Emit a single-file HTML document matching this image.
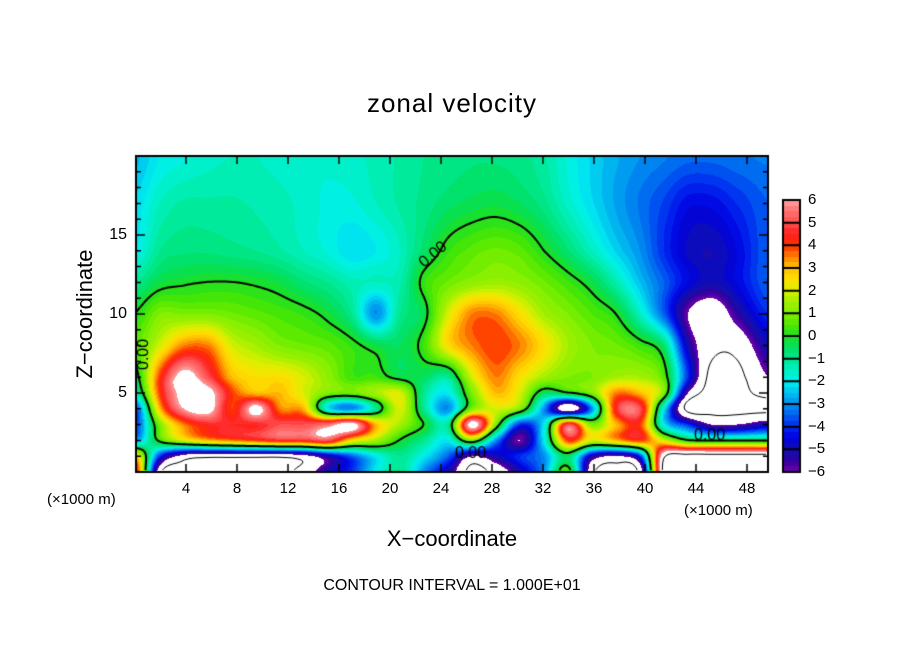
<!DOCTYPE html>
<html><head><meta charset="utf-8"><style>
body{margin:0;background:#fff;width:904px;height:654px;overflow:hidden;position:relative;font-family:"Liberation Sans",sans-serif}
.t{position:absolute;color:#000;white-space:nowrap}
</style></head><body>
<div class="t" style="left:0;width:904px;text-align:center;top:88px;font-size:26px;letter-spacing:1px">zonal velocity</div>
<div class="t" style="left:85px;top:314px;font-size:22px;transform:translate(-50%,-50%) rotate(-90deg)">Z−coordinate</div>
<div class="t" style="left:0;width:904px;text-align:center;top:526px;font-size:22px">X−coordinate</div>
<div class="t" style="left:47px;top:491px;font-size:15px">(×1000 m)</div>
<div class="t" style="left:684px;top:502px;font-size:15px">(×1000 m)</div>
<div class="t" style="left:0;width:904px;text-align:center;top:577px;font-size:16px">CONTOUR INTERVAL = 1.000E+01</div>
<canvas id="c" width="904" height="654" style="position:absolute;left:0;top:0"></canvas>
<script>
const xs=[0,1.96,3.84,5.73,7.61,9.49,11.37,13.25,15.14,17.02,18.9,20.78,22.67,24.55,26.43,28.31,30.2,32.08,33.96,35.84,37.73,39.61,41.49,43.37,45.25,47.14,49.65];
const zs=[0,1,2,3,4,5,6,8,10,12,14,17,20];
const row0=[5,-7,-8,-8,-8,-8,-8,-7,-5,-4,-2,-1,-3,-5,-8,-7,-5,-3,0.5,-7,-8,-7,8,9,9,9,9];
const row1=[3,-4,-6.5,-7,-7,-7,-7,-6.5,-5,-3.5,-2,-1,-2,-3.5,-6,-5,-4,-3,-0.5,-5,-6,-4,7,8,8,8,8];
const row2=[-3,0.3,2,3,3.5,4,4.5,4.5,5,2.5,1.5,0,-1,-2,1,-3,-6,-2,4,2,3,4,2,0,-0.3,-0.3,-0.3];
const row3=[-4,1,3.5,4.5,4.5,4.5,5,5,5.5,6.5,3,1.5,0,-1,6.5,1,-4,-2,5,1,3,4,-2,-4,-6,-6,-5];
const row4=[-4,3,6,6.5,4,6.5,3.5,3,-2,-3,-1,2,-1,-3,1,2,1,-3,-7,-3,4.5,5,-2,-8,-8,-8,-8];
const row5=[-1.5,4,6.5,6.5,4,3,3,2,1,0.8,1.5,2,-1,-2,1,3,2,-0.5,0,1,3.5,3,1,-6,-8,-8,-7];
const row6=[-0.5,4,6.5,5,3,2.5,2.5,2,1.2,0.3,0.3,-0.3,-0.5,-1,2,3.5,2.5,1.5,1,1,1.5,1.5,0.5,-4,-8,-8,-6];
const row8=[0.5,2,3.5,3.5,2,1.5,1,0.8,0.6,0.2,-0.3,-0.5,0.3,2.5,3.5,4,3.5,2.5,1.5,1,0.8,0.3,-0.7,-5,-7,-7,-5];
const row10=[0,1,1,1,0.8,0.6,0.4,0.2,-0.2,-1,-3,-1,-0.3,2,3.5,3.5,2.5,1.5,1,0.5,0,-1.5,-3.5,-6,-7,-5.5,-4];
const row12=[-1,-0.3,-0.1,0,0,-0.1,-0.3,-0.7,-1,-1.4,-1.5,-1.3,0.2,0.8,1.2,1.4,1.2,0.8,0.3,-0.3,-1.3,-2.5,-3.5,-4.5,-5,-4.5,-3.5];
const row14=[-2,-1,-0.8,-0.8,-0.9,-1,-1.2,-1.5,-1.8,-2.2,-2,-1.5,-0.6,0.2,0.6,0.8,0.6,0,-0.7,-1.5,-2.3,-3,-4,-4.8,-5,-4.5,-3.5];
const row17=[-2.2,-1.5,-1.2,-1.2,-1.2,-1.3,-1.4,-1.6,-1.8,-1.8,-1.5,-1.2,-0.9,-0.6,-0.4,-0.3,-0.5,-0.9,-1.6,-2.2,-2.8,-3.3,-3.8,-4.4,-4.4,-4,-3.5];
const row20=[-2.6,-2,-1.8,-1.6,-1.5,-1.5,-1.6,-1.7,-1.7,-1.6,-1.4,-1.2,-1,-0.9,-0.8,-0.8,-0.9,-1.2,-1.8,-2.3,-2.7,-3,-3.2,-3.4,-3.4,-3.3,-3.2];
const rows=[row0,row1,row2,row3,row4,row5,row6,row8,row10,row12,row14,row17,row20];
const xTicks=[4,8,12,16,20,24,28,32,36,40,44,48];
const zTicks=[5,10,15];
const cbLevels=[-6,-5,-4,-3,-2,-1,0,1,2,3,4,5,6];

const L=136,R=768,T=156,B=472;
const X=x=>135+12.75*x, Z=z=>472-15.8*z;
const stops=[[-6,[112,0,168]],[-5.5,[48,0,160]],[-5,[16,16,176]],[-4.5,[0,0,224]],[-4,[0,40,240]],[-3.5,[0,96,240]],[-3,[0,144,240]],[-2.5,[0,192,240]],[-2,[0,240,240]],[-1.5,[0,240,192]],[-1,[0,232,144]],[-0.5,[0,224,96]],[0,[32,224,32]],[0.5,[80,232,0]],[1,[128,240,0]],[1.5,[160,240,0]],[2,[216,240,0]],[2.5,[255,224,0]],[3,[255,192,0]],[3.5,[255,128,0]],[4,[255,48,0]],[4.5,[255,32,32]],[5,[255,80,80]],[5.5,[255,112,112]],[6,[255,160,160]]];
function col(v){if(v>6||v<-6)return[255,255,255];v=Math.floor(v*4)/4+0.125;
 for(let i=0;i<stops.length-1;i++){if(v<=stops[i+1][0]){const a=stops[i],b=stops[i+1],t=(v-a[0])/(b[0]-a[0]);return a[1].map((c,k)=>Math.round(c+(b[1][k]-c)*t));}}return stops[stops.length-1][1];}
function fidx(arr,v){for(let i=0;i<arr.length-1;i++){if(v<=arr[i+1])return i+(v-arr[i])/(arr[i+1]-arr[i]);}return arr.length-1;}
function cr(p0,p1,p2,p3,t){return 0.5*(2*p1+(-p0+p2)*t+(2*p0-5*p1+4*p2-p3)*t*t+(-p0+3*p1-3*p2+p3)*t*t*t);}
function val(fx,fz){const ix=Math.floor(fx),iz=Math.floor(fz),tx=fx-ix,tz=fz-iz;const nx=xs.length,nz=zs.length;
 const g=(i,j)=>rows[Math.max(0,Math.min(nz-1,j))][Math.max(0,Math.min(nx-1,i))];const r=[];
 for(let j=-1;j<=2;j++)r.push(cr(g(ix-1,iz+j),g(ix,iz+j),g(ix+1,iz+j),g(ix+2,iz+j),tx));return cr(r[0],r[1],r[2],r[3],tz);}
const cv=document.getElementById('c'),ctx=cv.getContext('2d');
const W=R-L,H=B-T,F=new Float32Array(W*H);
const fxs=[],fzs=[];for(let i=0;i<W;i++)fxs.push(fidx(xs,Math.max(0,(L+i+0.5-135)/12.75)));
for(let j=0;j<H;j++)fzs.push(fidx(zs,Math.max(0,(B-(T+j+0.5))/15.8)));
const img=ctx.createImageData(W,H);
for(let j=0;j<H;j++)for(let i=0;i<W;i++){const v=val(fxs[i],fzs[j]);F[j*W+i]=v;const c=col(v),k=(j*W+i)*4;img.data[k]=c[0];img.data[k+1]=c[1];img.data[k+2]=c[2];img.data[k+3]=255;}
ctx.putImageData(img,L,T);
function contour(level,lw,dash){ctx.save();ctx.beginPath();ctx.rect(L,T,W,H);ctx.clip();ctx.strokeStyle='#000';ctx.lineWidth=lw;ctx.setLineDash(dash);ctx.beginPath();const s=2;
 const f=(i,j)=>F[j*W+i]-level;
 for(let j=0;j+s<H;j+=s)for(let i=0;i+s<W;i+=s){const a=f(i,j),b=f(i+s,j),c=f(i+s,j+s),d=f(i,j+s);const p=[];
  const e=(x1,y1,v1,x2,y2,v2)=>{if((v1>0)!==(v2>0)){const t=v1/(v1-v2);p.push([L+x1+(x2-x1)*t,T+y1+(y2-y1)*t]);}};
  e(i,j,a,i+s,j,b);e(i+s,j,b,i+s,j+s,c);e(i+s,j+s,c,i,j+s,d);e(i,j+s,d,i,j,a);
  for(let k=0;k+1<p.length;k+=2){ctx.moveTo(p[k][0],p[k][1]);ctx.lineTo(p[k+1][0],p[k+1][1]);}}
 ctx.stroke();ctx.restore();}
contour(0,2,[]);contour(7.5,1,[]);contour(-7.5,1,[5,4]);
ctx.fillStyle='#000';ctx.font='16px "Liberation Sans",sans-serif';
function lab(t,x,y,a){ctx.save();ctx.translate(x,y);ctx.rotate(a);ctx.fillText(t,0,0);ctx.restore();}
lab('0.00',424,268,-0.7);lab('0.00',455,458,0);lab('0.00',694,440,0);lab('0.00',148,370,-1.57);
ctx.strokeStyle='#000';ctx.lineWidth=2;ctx.strokeRect(L,T,W,H);ctx.lineWidth=1.5;ctx.beginPath();
for(const t of xTicks){const x=X(t);ctx.moveTo(x,B);ctx.lineTo(x,B-8);ctx.moveTo(x,T);ctx.lineTo(x,T+8);}
for(let z=1;z<20;z++){const y=Z(z),l=z%5?5:9;ctx.moveTo(L,y);ctx.lineTo(L+l,y);ctx.moveTo(R,y);ctx.lineTo(R-l,y);}
ctx.stroke();
const cbT=200,cbB=472,cbL=783,cbR=800,bh=(cbB-cbT)/12;
for(let py=cbT;py<cbB;py++){const v=6-(py-cbT+0.5)/bh;const c=col(Math.max(-5.99,Math.min(5.99,v)));ctx.fillStyle=`rgb(${c})`;ctx.fillRect(cbL,py,cbR-cbL,1);}
ctx.lineWidth=2;ctx.strokeRect(cbL,cbT,cbR-cbL,cbB-cbT);ctx.beginPath();
for(let i=1;i<12;i++){ctx.moveTo(cbL,cbT+i*bh);ctx.lineTo(cbR,cbT+i*bh);}ctx.stroke();
</script>
<script>
const lay=document.body;
function addT(txt,x,y,align,name,size){const d=document.createElement('div');d.className='t';d.textContent=txt;


d.style.fontSize=(size||15)+'px';d.style.top=(y-9)+'px';
if(align==='c'){d.style.left=(x-30)+'px';d.style.width='60px';d.style.textAlign='center';}
else if(align==='r'){d.style.left=(x-60)+'px';d.style.width='60px';d.style.textAlign='right';}
else d.style.left=x+'px';lay.appendChild(d);}
for(const t of xTicks)addT(String(t),X(t),489,'c','x-tick-label');
for(const t of zTicks)addT(String(t),127,Z(t),'r','y-tick-label',16);
for(const v of cbLevels)addT(v<0?'−'+(-v):String(v),808,cbT+(6-v)*bh,'l','colorbar-label');
</script>
</body></html>
